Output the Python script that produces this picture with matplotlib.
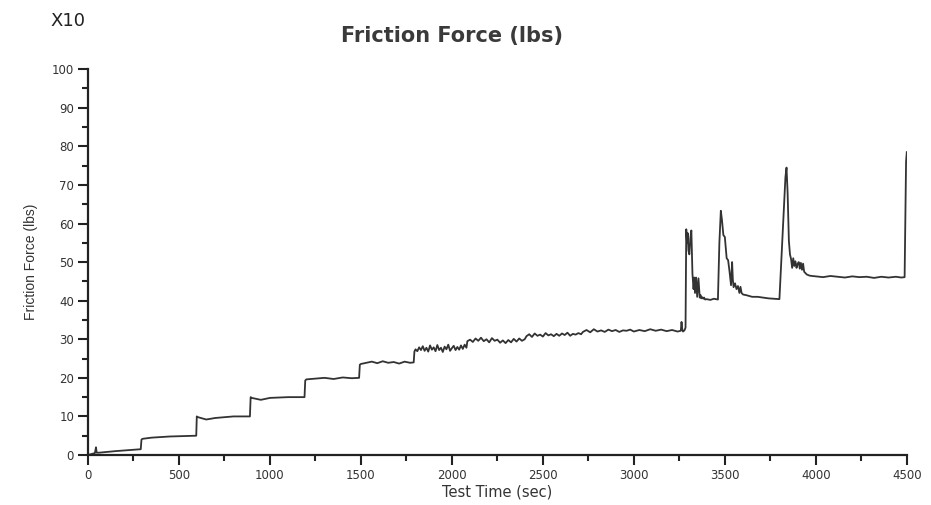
import numpy as np
import matplotlib.pyplot as plt
from matplotlib.ticker import MultipleLocator

plt.rcParams['font.family'] = ['DejaVu Sans']

# test time (sec) and friction force (lbs x10)
t_pts = [0, 38, 44, 48, 60, 150, 290,
         294, 300, 350, 450, 595,
         598, 605, 650, 700, 800, 890,
         894, 900, 950, 1000, 1100, 1190,
         1194, 1200, 1250, 1300, 1350, 1400, 1450, 1490,
         1494, 1500, 1530, 1560, 1590, 1620, 1650, 1680, 1710, 1740, 1770, 1790,
         1794, 1800, 1810, 1820, 1830, 1840, 1850, 1860, 1870, 1880, 1890, 1900,
         1910, 1920, 1930, 1940, 1950, 1960, 1970, 1980, 1990, 2000, 2010, 2020,
         2030, 2040, 2050, 2060, 2070, 2080,
         2085, 2100, 2115, 2130, 2145, 2160, 2175, 2190, 2205, 2220, 2235, 2250,
         2265, 2280, 2295, 2310, 2325, 2340, 2355, 2370, 2385, 2400,
         2410, 2425, 2440, 2455, 2470, 2485, 2500, 2515, 2530, 2545, 2560, 2575,
         2590, 2605, 2620, 2635, 2650, 2665, 2680, 2695, 2710,
         2720, 2740, 2760, 2780, 2800, 2820, 2840, 2860, 2880, 2900, 2920, 2940,
         2960, 2980, 3000, 3030, 3060, 3090, 3120, 3150, 3180, 3210, 3240, 3258,
         3262, 3266, 3270, 3278, 3284,
         3288, 3292, 3296, 3300, 3305, 3310, 3316, 3322, 3328, 3332, 3336, 3342,
         3348, 3355, 3362, 3366, 3370, 3376, 3382, 3386, 3392, 3400, 3420, 3440, 3462,
         3470, 3478, 3484, 3492, 3500, 3510, 3518, 3526, 3534, 3540, 3544, 3548,
         3556, 3564, 3572, 3580, 3586, 3592, 3600, 3620, 3650, 3680, 3710, 3740,
         3770, 3800,
         3812, 3825, 3833, 3839, 3845, 3852, 3858, 3864, 3870, 3876, 3882, 3888,
         3894, 3900, 3906, 3912, 3918, 3924, 3930, 3936, 3942, 3950, 3965, 3980,
         4000, 4040, 4080, 4120, 4160, 4200, 4240, 4280, 4320, 4360, 4400, 4440,
         4470, 4488, 4492, 4496, 4500]
force = [0, 0.5, 2.0, 0.6, 0.6, 1.0, 1.5,
         4.0, 4.2, 4.5, 4.8, 5.0,
         10.0, 9.8, 9.2, 9.6, 10.0, 10.0,
         15.0, 14.8, 14.3, 14.8, 15.0, 15.0,
         19.3, 19.6, 19.8, 20.0, 19.7, 20.1, 19.9, 20.0,
         23.4, 23.6, 23.9, 24.2, 23.8, 24.3, 23.9, 24.1, 23.7, 24.2, 23.9, 24.0,
         26.8, 27.4, 26.9, 27.9, 27.2, 28.2, 27.0, 27.8, 26.8, 28.4, 27.3, 27.9,
         26.9, 28.5, 27.2, 27.8, 26.7, 28.1, 27.4, 28.6, 27.0, 27.7, 28.3, 27.2,
         28.0, 27.3, 28.4, 27.5, 28.6, 27.8,
         29.5, 29.9, 29.3, 30.2, 29.6, 30.4, 29.5, 30.0, 29.2, 30.3, 29.6, 29.9,
         29.1, 29.7, 29.0, 29.8, 29.2, 30.1, 29.4, 30.2, 29.6, 30.0,
         30.8, 31.3, 30.6, 31.5, 30.9, 31.2, 30.7, 31.6, 31.0, 31.3, 30.8, 31.4,
         30.9, 31.5, 31.1, 31.7, 30.9, 31.4, 31.2, 31.6, 31.3,
         31.9, 32.4, 31.8, 32.6, 32.0, 32.3, 31.9, 32.5, 32.1, 32.4, 31.9, 32.3,
         32.2, 32.5, 32.0, 32.4, 32.1, 32.6, 32.2, 32.5, 32.1, 32.4, 32.0, 32.2,
         34.5, 32.6, 32.0, 32.3, 33.0,
         58.5, 55.0, 57.5, 53.0, 52.0, 56.0, 58.2, 47.0, 43.0, 46.0, 42.0, 46.0,
         41.0, 45.8, 40.8, 41.5, 40.6, 40.9, 40.5, 40.8, 40.3, 40.4, 40.2, 40.5, 40.3,
         55.0, 63.3, 61.0, 57.0, 56.5, 51.0, 50.5, 47.5, 44.0, 50.0, 45.5, 43.5,
         44.5, 43.0, 43.8, 42.0, 43.6, 42.0, 41.6, 41.4, 41.0, 41.0, 40.8, 40.6,
         40.5, 40.4,
         52.0, 65.0, 72.0, 74.5, 68.0, 55.5, 52.0, 50.8, 48.5, 51.0, 49.0, 50.2,
         48.5, 49.5, 50.0, 48.3, 49.8, 48.0, 49.6, 47.5, 47.2, 46.8, 46.5, 46.4,
         46.3, 46.1, 46.4, 46.2, 46.0, 46.3, 46.1, 46.2, 45.9, 46.2, 46.0, 46.2,
         46.0, 46.1, 60.0, 76.0, 78.5]

fig = plt.figure(figsize=(9.31, 5.05), dpi=100)
ax = fig.add_axes([0.0945, 0.099, 0.8795, 0.764])
ax.plot(t_pts, force, color='#333333', linewidth=1.3)

ax.set_xlim(0, 4500)
ax.set_ylim(0, 100)
ax.xaxis.set_major_locator(MultipleLocator(500))
ax.xaxis.set_minor_locator(MultipleLocator(250))
ax.yaxis.set_major_locator(MultipleLocator(10))
ax.yaxis.set_minor_locator(MultipleLocator(5))

for s in ['top', 'right']:
    ax.spines[s].set_visible(False)
for s in ['left', 'bottom']:
    ax.spines[s].set_linewidth(1.6)
    ax.spines[s].set_color('#222222')
ax.tick_params(which='major', length=7, width=1.5, color='#222222',
               labelsize=8.5, labelcolor='#333333', pad=3)
ax.tick_params(which='minor', length=4, width=1.5, color='#222222')

ax.set_xlabel('Test Time (sec)', fontsize=10.5, color='#333333', labelpad=2)
ax.set_ylabel('Friction Force (lbs)', fontsize=10, color='#333333', labelpad=10,
              family='Liberation Sans')
fig.text(0.486, 0.928, 'Friction Force (lbs)', ha='center', va='center',
         fontsize=15, fontweight='bold', color='#3a3a3a')
fig.text(0.054, 0.958, 'X10', ha='left', va='center', fontsize=13,
         color='#222222')

fig.savefig('out.png', dpi=100)
